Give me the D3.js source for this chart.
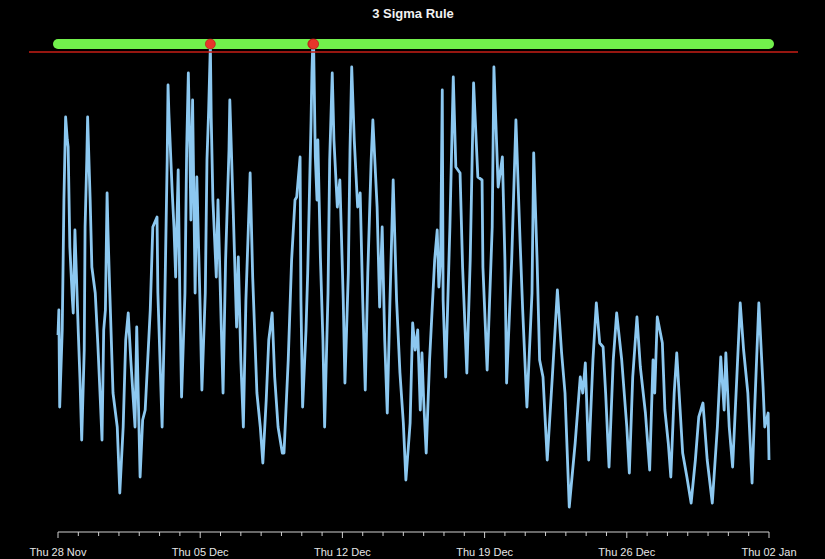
<!DOCTYPE html>
<html><head><meta charset="utf-8">
<script src="https://cdn.jsdelivr.net/npm/d3@7"></script>
<style>html,body{margin:0;padding:0;background:#000;}svg{display:block;}</style>
</head><body>
<svg id="chart" width="825" height="559"></svg>
<script>
// hours since Thu 28 Nov 2019 00:00 (UTC)
const hours = [
  0,1,2,5,7,9,11,12,14,17,
  18,20,24,26,28,31,32,34,35,38,
  40,44,47,50,52,54,56,58,59,61,
  65,70,73,77,80,83,86,91,93,97,
  100,103,109,112,117,118,123,126,129,130,
  131,135,137,139,142,144,146,150,152,154,
  156,157,159,162,164,168,170,174,176,178,
  180,181,183,187,189,193,195,198,202,203,
  207,211,213,216,219,222,226,227,230,235,
  239,242,246,249,253,256,260,265,267,272,
  276,280,282,286,287,289,293,295,299,300,
  301,302,304,306,307,310,313,315,319,321,
  324,326,330,333,337,339,343,345,347,350,
  354,357,360,363,366,370,372,377,380,383,
  386,389,392,396,400,404,408,411,416,419,
  422,425,428,430,432,435,439,445,448,450,
  452,454,455,458,463,467,470,475,478,483,
  487,491,496,501,502,507,513,515,520,525,
  528,530,536,541,546,549,554,560,562,566,
  569,573,578,584,590,595,599,604,611,617,
  620,623,627,632,636,640,644,647,651,656,
  660,666,672,675,679,684,688,694,699,703,
  705,708,714,717,721,724,728,731,735,738,
  743,748,753,757,762,767,773,779,783,787,
  789,793,797,802,806,810,815,820,823,828,
  833,835,839,840
];
const values = [
  39,44,24.6,40,66,82.6,78,76.6,56.6,46,
  43.4,60,39.4,30,18,36,60.6,74,82.6,66,
  52.6,47.4,37.4,26,18,40,44,67.4,60,48.6,
  27.4,20.6,7.4,20.6,38,43.4,34,20.6,40.6,10.6,
  22,24,44,60.6,62.6,47.4,20.6,44,74,89,
  83.4,67.4,60.6,50.6,72,46,26.6,47.4,76,91.4,
  74,62,86,47.4,70.6,44,28,47.4,74,84,
  97,82.6,66,50.6,66,40,27.4,54,76,86,
  64,40.6,54.6,34,20.6,46,66,71.4,50.6,27.4,
  20.6,13.4,26,38,43.4,30.6,20.6,15.4,15.4,34,
  54,66,66.6,74.6,46,24.6,40,51.4,82,91.4,
  97.4,97,74.6,66,78,54.6,38,20.6,47.4,74,
  91.4,78,64.6,70,46,29.4,51.4,76,92.6,78,
  64.6,67.4,46,28,51.4,74,82,64.6,44.6,60.6,
  38,23.4,44.6,70,46,31.4,21.4,10,21.4,41.4,
  36,40,24,35.4,26,15.4,34,54,60,48.6,
  54,88,46,30.6,60.6,90.6,72.6,71.4,52.6,31.4,
  54,89.4,70.6,70,52.6,32,60.6,92.6,68.6,74.6,
  54,29.4,54,82,57.4,44,24.6,47.4,75.4,54,
  34,30.6,14,30.6,48,35.4,27.4,4.6,17.4,30.6,
  27.4,33.4,14,34,45.4,37.4,36.6,27.4,12.6,34,
  43.4,34,20.6,11.4,30.6,42.6,32.6,23.4,12,34,
  27.4,42.6,37.4,24,17.4,10.6,27.4,35.4,24,15.4,
  10.6,5.4,14,22.6,25.4,14,5.4,20.6,34.6,24,
  35.4,20.6,12.6,30.6,45.4,36,27.4,9.4,24,45.4,
  28.6,20.6,23.4,14
];
const threshold = 95.6;     // 3-sigma limit (red line)
const bandLevel = 97.2;     // level of the green band / outlier markers
const startDate = "2019-11-28";
const endDate = "2020-01-02";
const titleText = "3 Sigma Rule";

const start = new Date(startDate + "T00:00:00Z");
const end = new Date(endDate + "T00:00:00Z");
const data = hours.map((h, i) => ({t: new Date(start.getTime() + h * 3600e3), v: values[i]}));

const svg = d3.select("#chart");
svg.append("rect").attr("width", 825).attr("height", 559).attr("fill", "#000");

const x = d3.scaleUtc().domain([start, end]).range([58, 769]);
const y = d3.scaleLinear().domain([0, 96]).range([530, 50]);

// title
svg.append("text").attr("x", 413).attr("y", 18).attr("text-anchor", "middle")
  .attr("font-family", "Liberation Sans, Arial, sans-serif").attr("font-weight", "bold")
  .attr("font-size", 13).attr("fill", "#f2f2f2").text(titleText);

// series
const line = d3.line().x(d => x(d.t)).y(d => y(d.v)).curve(d3.curveLinear);
svg.append("path").datum(data).attr("d", line).attr("fill", "none")
  .attr("stroke", "#8cc8f0").attr("stroke-width", 2.8).attr("stroke-linejoin", "round");

// threshold line
svg.append("line").attr("x1", 29).attr("x2", 798)
  .attr("y1", y(threshold)).attr("y2", y(threshold))
  .attr("stroke", "#c81e16").attr("stroke-width", 1.6);

// green band
svg.append("line").attr("x1", x(data[0].t)).attr("x2", x(data[data.length - 1].t))
  .attr("y1", y(bandLevel)).attr("y2", y(bandLevel))
  .attr("stroke", "#72f04c").attr("stroke-width", 10).attr("stroke-linecap", "round");

// outliers
svg.selectAll("circle.out").data(data.filter(d => d.v > threshold)).enter()
  .append("circle").attr("class", "out")
  .attr("cx", d => x(d.t)).attr("cy", y(bandLevel)).attr("r", 5)
  .attr("fill", "#e8352b").attr("stroke", "#b01a12").attr("stroke-width", 0.6);

// x axis
const axisY = 532;
const g = svg.append("g").attr("transform", `translate(0,${axisY})`);
g.append("line").attr("x1", x(start)).attr("x2", x(end)).attr("stroke", "#d0d0d0").attr("stroke-width", 1);
const days = d3.utcDay.range(start, d3.utcDay.offset(end, 1));
g.selectAll("line.tick").data(days).enter().append("line").attr("class", "tick")
  .attr("x1", d => x(d)).attr("x2", d => x(d))
  .attr("y1", 0).attr("y2", (d, i) => i % 7 === 0 ? 6 : 4)
  .attr("stroke", "#d0d0d0").attr("stroke-width", 1);
const fmt = d3.utcFormat("%a %d %b");
g.selectAll("text.lab").data(days.filter((d, i) => i % 7 === 0)).enter().append("text")
  .attr("class", "lab").attr("x", d => x(d)).attr("y", 24).attr("text-anchor", "middle")
  .attr("font-family", "Liberation Sans, Arial, sans-serif").attr("font-size", 11)
  .attr("fill", "#e6e6e6").text(d => fmt(d));
</script>
</body></html>
